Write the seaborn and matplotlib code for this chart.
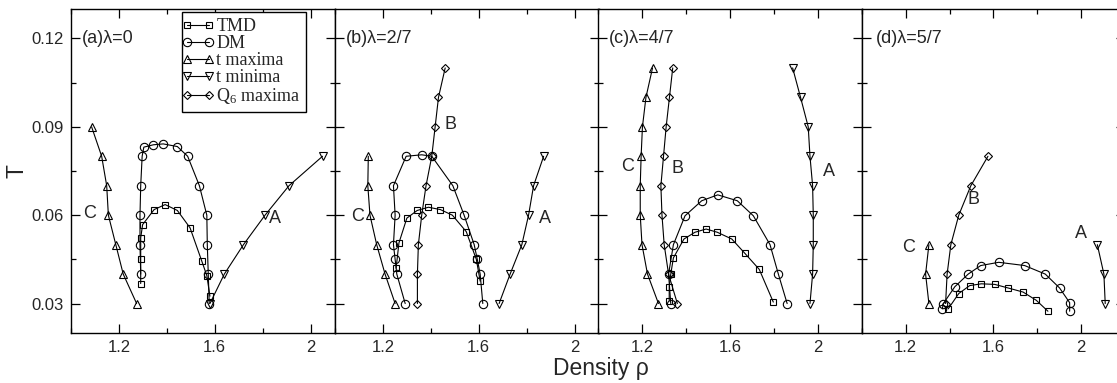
import numpy as np
import pandas as pd
import matplotlib
matplotlib.use('Agg')
import matplotlib.pyplot as plt
import seaborn as sns
from matplotlib.ticker import MultipleLocator, FuncFormatter
from matplotlib.legend_handler import HandlerLine2D

# ---- panel (a) lambda = 0
a_tmd_rho = [1.291, 1.291, 1.291, 1.299, 1.347, 1.393, 1.444, 1.497, 1.546, 1.567, 1.580]
a_tmd_T = [0.0368, 0.0452, 0.0523, 0.0568, 0.0619, 0.0636, 0.0616, 0.0557, 0.0444, 0.0395, 0.0325]
a_dm_rho = [1.291, 1.288, 1.288, 1.291, 1.297, 1.304, 1.344, 1.385, 1.444, 1.487, 1.536, 1.567, 1.569, 1.573, 1.577]
a_dm_T = [0.040, 0.050, 0.060, 0.070, 0.080, 0.0831, 0.0839, 0.0842, 0.0833, 0.080, 0.070, 0.060, 0.050, 0.040, 0.030]
a_tmax_rho = [1.086, 1.128, 1.149, 1.156, 1.187, 1.218, 1.274]
a_tmax_T = [0.09, 0.08, 0.07, 0.06, 0.05, 0.04, 0.03]
a_tmin_rho = [1.58, 1.64, 1.72, 1.81, 1.91, 2.05]
a_tmin_T = [0.03, 0.04, 0.05, 0.06, 0.07, 0.08]

# ---- panel (b) lambda = 2/7
b_tmd_rho = [1.255, 1.267, 1.300, 1.343, 1.390, 1.440, 1.490, 1.548, 1.590, 1.606]
b_tmd_T = [0.042, 0.0506, 0.059, 0.0616, 0.0627, 0.0619, 0.060, 0.0544, 0.045, 0.0376]
b_dm_rho = [1.293, 1.258, 1.251, 1.244, 1.251, 1.244, 1.297, 1.362, 1.404, 1.492, 1.539, 1.581, 1.594, 1.606, 1.617]
b_dm_T = [0.030, 0.040, 0.045, 0.050, 0.060, 0.070, 0.080, 0.0805, 0.080, 0.070, 0.060, 0.050, 0.045, 0.040, 0.030]
b_tmax_rho = [1.251, 1.209, 1.174, 1.146, 1.137, 1.139]
b_tmax_T = [0.03, 0.04, 0.05, 0.06, 0.07, 0.08]
b_tmin_rho = [1.685, 1.731, 1.780, 1.808, 1.829, 1.871]
b_tmin_T = [0.03, 0.04, 0.05, 0.06, 0.07, 0.08]
b_q6_rho = [1.344, 1.344, 1.348, 1.362, 1.380, 1.404, 1.418, 1.432, 1.460]
b_q6_T = [0.03, 0.04, 0.05, 0.06, 0.07, 0.08, 0.09, 0.10, 0.11]

# ---- panel (c) lambda = 4/7
c_tmd_rho = [1.323, 1.323, 1.330, 1.342, 1.390, 1.440, 1.491, 1.542, 1.608, 1.668, 1.733, 1.797]
c_tmd_T = [0.031, 0.0357, 0.040, 0.0455, 0.0519, 0.0542, 0.0553, 0.0542, 0.0519, 0.047, 0.0416, 0.0305]
c_dm_rho = [1.330, 1.320, 1.342, 1.395, 1.471, 1.544, 1.633, 1.706, 1.782, 1.820, 1.860]
c_dm_T = [0.030, 0.040, 0.050, 0.0598, 0.0649, 0.0669, 0.0649, 0.0598, 0.050, 0.040, 0.030]
c_tmax_rho = [1.274, 1.224, 1.199, 1.191, 1.191, 1.195, 1.201, 1.217, 1.247]
c_tmax_T = [0.03, 0.04, 0.05, 0.06, 0.07, 0.08, 0.09, 0.10, 0.11]
c_tmin_rho = [1.964, 1.976, 1.979, 1.979, 1.976, 1.964, 1.956, 1.921, 1.885]
c_tmin_T = [0.03, 0.04, 0.05, 0.06, 0.07, 0.08, 0.09, 0.10, 0.11]
c_q6_rho = [1.360, 1.320, 1.300, 1.290, 1.285, 1.297, 1.309, 1.324, 1.339]
c_q6_T = [0.03, 0.04, 0.05, 0.06, 0.07, 0.08, 0.09, 0.10, 0.11]

# ---- panel (d) lambda = 5/7
d_tmd_rho = [1.394, 1.442, 1.492, 1.545, 1.606, 1.666, 1.735, 1.795, 1.848]
d_tmd_T = [0.0282, 0.0334, 0.0361, 0.0367, 0.0365, 0.0353, 0.0339, 0.0311, 0.0274]
d_dm_rho = [1.367, 1.372, 1.424, 1.485, 1.542, 1.624, 1.742, 1.836, 1.901, 1.947, 1.947]
d_dm_T = [0.0282, 0.030, 0.0357, 0.040, 0.0429, 0.044, 0.0429, 0.040, 0.0353, 0.0303, 0.0274]
d_tmax_rho = [1.306, 1.291, 1.306]
d_tmax_T = [0.03, 0.04, 0.05]
d_tmin_rho = [2.109, 2.103, 2.073]
d_tmin_T = [0.03, 0.04, 0.05]
d_q6_rho = [1.382, 1.389, 1.406, 1.442, 1.497, 1.575]
d_q6_T = [0.03, 0.04, 0.05, 0.06, 0.07, 0.08]

titles = ['(a)\u03bb=0', '(b)\u03bb=2/7', '(c)\u03bb=4/7', '(d)\u03bb=5/7']
names = ['TMD', 'DM', 't maxima', 't minima', 'Q6 maxima']
legend_labels = ['TMD', 'DM', 't maxima', 't minima', r'Q$_\mathrm{6}$ maxima']

# branch labels A/B/C : (rho, T)
lab_a = {'C': (1.079, 0.0607), 'A': (1.852, 0.059)}
lab_b = {'C': (1.093, 0.0596), 'B': (1.483, 0.0907), 'A': (1.878, 0.059)}
lab_c = {'C': (1.133, 0.0765), 'B': (1.360, 0.076), 'A': (2.051, 0.0749)}
lab_d = {'C': (1.212, 0.0491), 'B': (1.507, 0.0653), 'A': (1.997, 0.0537)}

panels = [
    {'TMD': (a_tmd_rho, a_tmd_T), 'DM': (a_dm_rho, a_dm_T),
     't maxima': (a_tmax_rho, a_tmax_T), 't minima': (a_tmin_rho, a_tmin_T)},
    {'TMD': (b_tmd_rho, b_tmd_T), 'DM': (b_dm_rho, b_dm_T),
     't maxima': (b_tmax_rho, b_tmax_T), 't minima': (b_tmin_rho, b_tmin_T),
     'Q6 maxima': (b_q6_rho, b_q6_T)},
    {'TMD': (c_tmd_rho, c_tmd_T), 'DM': (c_dm_rho, c_dm_T),
     't maxima': (c_tmax_rho, c_tmax_T), 't minima': (c_tmin_rho, c_tmin_T),
     'Q6 maxima': (c_q6_rho, c_q6_T)},
    {'TMD': (d_tmd_rho, d_tmd_T), 'DM': (d_dm_rho, d_dm_T),
     't maxima': (d_tmax_rho, d_tmax_T), 't minima': (d_tmin_rho, d_tmin_T),
     'Q6 maxima': (d_q6_rho, d_q6_T)},
]
labels = [lab_a, lab_b, lab_c, lab_d]
xmax = [2.1, 2.1, 2.2, 2.2]

sns.set_theme(style='ticks')
plt.rcParams['font.family'] = ['Liberation Sans', 'DejaVu Sans']
plt.rcParams['mathtext.fontset'] = 'custom'
plt.rcParams['mathtext.rm'] = 'Liberation Serif'
plt.rcParams['mathtext.it'] = 'Liberation Serif:italic'

style = {'TMD': dict(marker='s', markersize=5.0),
         'DM': dict(marker='o', markersize=6.0),
         't maxima': dict(marker='^', markersize=6.0),
         't minima': dict(marker='v', markersize=6.0),
         'Q6 maxima': dict(marker='D', markersize=3.9)}

W, H = 1117, 383
fig = plt.figure(figsize=(W / 100, H / 100), dpi=100)
lefts = [71, 335, 598.3, 861.7]
handles = {}
axes = []
for i in range(4):
    ax = fig.add_axes([lefts[i] / W, 50 / H, 263.5 / W, 324 / H])
    axes.append(ax)
    for name in names:
        if name not in panels[i]:
            continue
        rho, T = panels[i][name]
        sns.lineplot(x=rho, y=T, sort=False, estimator=None, ax=ax, color='black',
                     lw=0.8, markerfacecolor='none', markeredgecolor='black',
                     markeredgewidth=0.8, **style[name])
        handles.setdefault(name, ax.lines[-1])
    for k, (x, y) in labels[i].items():
        ax.text(x, y, k, ha='center', va='center', fontsize=13)
    ax.text(0.04 if i != 3 else 0.055, 0.12, titles[i], ha='left', va='center', fontsize=13,
            transform=ax.get_yaxis_transform())
    ax.set_xlim(1.0, xmax[i])
    ax.set_ylim(0.02, 0.13)
    ax.xaxis.set_major_locator(MultipleLocator(0.4))
    ax.xaxis.set_minor_locator(MultipleLocator(0.2))
    ax.yaxis.set_major_locator(MultipleLocator(0.03))
    ax.yaxis.set_minor_locator(MultipleLocator(0.015))
    ax.xaxis.set_major_formatter(FuncFormatter(lambda v, p: '%g' % round(v, 2)))
    ax.tick_params(which='both', direction='in', top=True, right=True, color='black',
                   labelsize=12, width=0.9)
    ax.tick_params(which='major', length=6.5, pad=5)
    ax.tick_params(which='minor', length=3.5)
    if i > 0:
        ax.tick_params(labelleft=False)
    for s in ax.spines.values():
        s.set_color('black')
        s.set_linewidth(1.0)
    ax.set_xlabel('')
    ax.set_ylabel('')

leg = axes[0].legend([handles[n] for n in names], legend_labels, loc='upper left',
                     bbox_to_anchor=(0.42, 0.99), borderaxespad=0, numpoints=2,
                     handler_map={h: HandlerLine2D(marker_pad=0) for h in handles.values()},
                     handlelength=1.2, handletextpad=0.4, labelspacing=0.0,
                     borderpad=0.32, fancybox=False, framealpha=1, edgecolor='black',
                     prop={'family': 'Liberation Serif', 'size': 13})
leg.get_frame().set_linewidth(1.0)

fig.text(17 / W, 1 - 171 / H, 'T', rotation=90, ha='center', va='center', fontsize=16.5)
fig.text(601 / W, 1 - 375 / H, 'Density \u03c1', ha='center', va='baseline', fontsize=16.5)

fig.savefig('out.png', dpi=100)
